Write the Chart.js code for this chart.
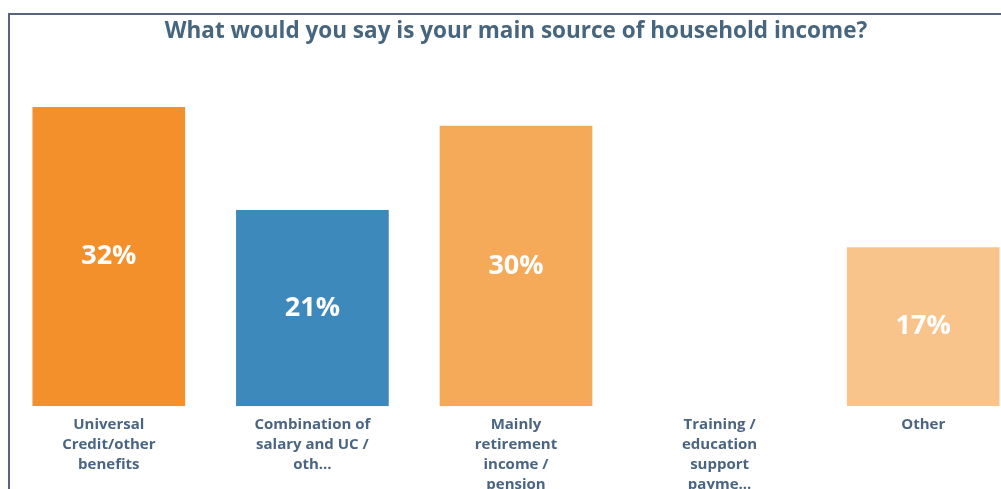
<!DOCTYPE html>
<html>
<head>
<meta charset="utf-8">
<script src="https://cdn.jsdelivr.net/npm/chart.js@4/dist/chart.umd.min.js"></script>
<style>
  html, body { margin: 0; padding: 0; background: #fff; overflow: hidden; width: 1001px; height: 489px; }
  #frame { position: absolute; left: 8px; top: 13px; width: 1100px; height: 600px;
           border-left: 2px solid #56657f; border-top: 2px solid #56657f; }
  #wrap { position: absolute; left: 0; top: 0; width: 1025px; height: 508px; }
</style>
</head>
<body>
<div id="frame"></div>
<div id="wrap"><canvas id="income_chart"></canvas></div>
<script>
var categories = [
  ["Universal", "Credit/other", "benefits"],
  ["Combination of", "salary and UC /", "oth..."],
  ["Mainly", "retirement", "income /", "pension"],
  ["Training /", "education", "support", "payme..."],
  ["Other"]
];
var percentValues = [32, 21, 30, 0, 17];
var barColours = ["#f4902c", "#3d89bb", "#f5aa5a", "#f5aa5a", "#f8c48b"];

// white % labels in the middle of each bar
var barLabels = {
  id: "barLabels",
  afterDatasetsDraw(chart) {
    var ctx = chart.ctx;
    var meta = chart.getDatasetMeta(0);
    ctx.save();
    ctx.fillStyle = "#ffffff";
    ctx.font = "bold 27px 'Open Sans', sans-serif";
    ctx.textAlign = "center";
    ctx.textBaseline = "middle";
    meta.data.forEach(function (bar, i) {
      var v = percentValues[i];
      if (!v) return;
      ctx.fillText(v + "%", bar.x, (bar.y + bar.base) / 2);
    });
    ctx.restore();
  }
};

var income_chart = new Chart("income_chart", {
  type: "bar",
  data: {
    labels: categories,
    datasets: [{
      data: percentValues,
      backgroundColor: barColours,
      borderWidth: 0,
      categoryPercentage: 1,
      barPercentage: 0.75
    }]
  },
  options: {
    responsive: true,
    maintainAspectRatio: false,
    animation: false,
    layout: { padding: { left: 7, right: 0, top: 0, bottom: 4 } },
    plugins: {
      legend: { display: false },
      tooltip: { enabled: false },
      title: {
        display: true,
        text: "What would you say is your main source of household income?",
        color: "#46657f",
        font: { family: "'Open Sans', sans-serif", size: 22.5, weight: "bold" },
        padding: { top: 18, bottom: 34 }
      }
    },
    scales: {
      x: {
        grid: { display: false, drawTicks: false },
        border: { display: false },
        ticks: {
          color: "#4a6583",
          font: { family: "'Open Sans', sans-serif", size: 15, weight: "bold", lineHeight: 1.33 },
          padding: 9,
          maxRotation: 0,
          autoSkip: false
        }
      },
      y: {
        display: false,
        min: 0,
        max: 35
      }
    }
  },
  plugins: [barLabels]
});
</script>
</body>
</html>
